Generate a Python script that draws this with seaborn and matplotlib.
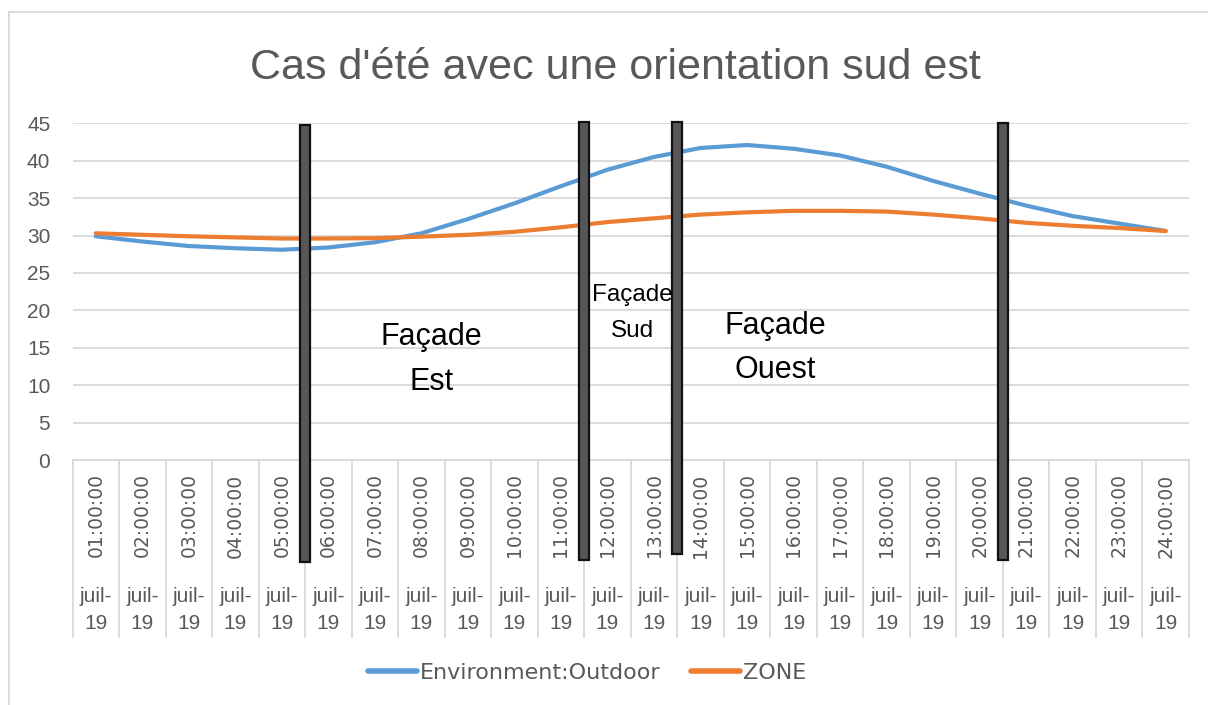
import numpy as np
import pandas as pd
import matplotlib
matplotlib.use("Agg")
import matplotlib.pyplot as plt
import matplotlib.transforms as mtransforms
from matplotlib.lines import Line2D
import seaborn as sns

# ---- data -------------------------------------------------------------
hours = ["01:00:00", "02:00:00", "03:00:00", "04:00:00", "05:00:00", "06:00:00",
         "07:00:00", "08:00:00", "09:00:00", "10:00:00", "11:00:00", "12:00:00",
         "13:00:00", "14:00:00", "15:00:00", "16:00:00", "17:00:00", "18:00:00",
         "19:00:00", "20:00:00", "21:00:00", "22:00:00", "23:00:00", "24:00:00"]
month_label = ["juil-", "19"]

outdoor = [29.9, 29.2, 28.6, 28.3, 28.1, 28.4, 29.1, 30.3, 32.2, 34.3, 36.6, 38.8,
           40.5, 41.7, 42.1, 41.6, 40.7, 39.2, 37.3, 35.6, 34.0, 32.6, 31.6, 30.6]
zone = [30.3, 30.1, 29.9, 29.75, 29.6, 29.6, 29.65, 29.85, 30.1, 30.5, 31.1, 31.8,
        32.3, 32.8, 33.1, 33.3, 33.3, 33.2, 32.8, 32.3, 31.7, 31.3, 31.0, 30.6]
series_names = ["Environment:Outdoor", "ZONE"]

# façade separators (category-boundary positions) and their vertical extent
sep_pos = [4.5, 10.5, 12.5, 19.5]
sep_top = [44.8, 45.2, 45.2, 45.1]
sep_bottom = [-13.6, -13.4, -12.6, -13.4]

title = "Cas d'été avec une orientation sud est"

# ---- style ------------------------------------------------------------
sns.set_theme(style="white")
plt.rcParams["font.family"] = ["Liberation Sans", "DejaVu Sans"]
GREY_TXT = "#595959"
GRID = "#D9D9D9"
BLUE = "#5B9BD5"
ORANGE = "#ED7D31"

W, H = 1208, 705
fig = plt.figure(figsize=(W / 100, H / 100), dpi=100)
fig.patch.set_facecolor("white")
ax = fig.add_axes([72.5 / W, 1 - 460 / H, (1189 - 72.5) / W, (460 - 123.3) / H])

df = pd.DataFrame({"idx": np.arange(len(hours)), series_names[0]: outdoor, series_names[1]: zone})
long = df.melt(id_vars="idx", var_name="série", value_name="temp")

sns.lineplot(data=long, x="idx", y="temp", hue="série", palette=[BLUE, ORANGE],
             linewidth=3, sort=False, ax=ax, solid_capstyle="round", zorder=3)
handles, labels = ax.get_legend_handles_labels()
if ax.get_legend() is not None:
    ax.get_legend().remove()

# separator bars
ax.bar(sep_pos, [t - b for t, b in zip(sep_top, sep_bottom)], bottom=sep_bottom,
       width=0.22, color="#575757", edgecolor="#111111", linewidth=1.6,
       clip_on=False, zorder=6)

ax.set_xlim(-0.5, len(hours) - 0.5)
ax.set_ylim(0, 45)
ax.set_yticks(range(0, 46, 5))
ax.set_xticks([])
ax.set_xlabel("")
ax.set_ylabel("")
ax.yaxis.grid(True, color=GRID, linewidth=1.3)
ax.set_axisbelow(True)
for s in ["left", "right", "top"]:
    ax.spines[s].set_visible(False)
ax.spines["bottom"].set_color(GRID)
ax.spines["bottom"].set_linewidth(1.3)
ax.tick_params(axis="y", length=0, pad=16, labelsize=15, labelcolor=GREY_TXT)

# multi-level category axis
trans = mtransforms.blended_transform_factory(ax.transData, ax.transAxes)
for b in np.arange(-0.5, len(hours), 1.0):
    ax.axvline(b, ymin=-0.526, ymax=0, color=GRID, linewidth=1.3, clip_on=False, zorder=1)
for i, lab in enumerate(hours):
    ax.text(i, -0.040, lab, transform=trans, rotation=90, ha="center", va="top",
            fontsize=13.5, family="DejaVu Sans", color=GREY_TXT)
    ax.text(i, -0.421, month_label[0], transform=trans, ha="center", va="baseline",
            fontsize=15, color=GREY_TXT)
    ax.text(i, -0.502, month_label[1], transform=trans, ha="center", va="baseline",
            fontsize=15, color=GREY_TXT)

# façade annotations
ax.text(7.21, 15.37, "Façade", ha="center", va="baseline", fontsize=22, color="black", zorder=7)
ax.text(7.21, 9.36, "Est", ha="center", va="baseline", fontsize=22, color="black", zorder=7)
ax.text(11.53, 21.3, "Façade", ha="center", va="baseline", fontsize=17.5, color="black", zorder=7)
ax.text(11.53, 16.5, "Sud", ha="center", va="baseline", fontsize=17.5, color="black", zorder=7)
ax.text(14.61, 16.9, "Façade", ha="center", va="baseline", fontsize=22, color="black", zorder=7)
ax.text(14.61, 10.9, "Ouest", ha="center", va="baseline", fontsize=22, color="black", zorder=7)

# title
fig.text(615 / W, 1 - 79 / H, title, ha="center", va="baseline", fontsize=31, color=GREY_TXT)

# legend
leg = fig.legend(handles, labels, loc="center", bbox_to_anchor=(587 / W, 1 - 673 / H),
                 ncol=2, frameon=False, handlelength=2.2,
                 handletextpad=0.15, columnspacing=1.35, labelcolor=GREY_TXT,
                 prop={"family": "DejaVu Sans", "size": 16})
for line in leg.get_lines():
    line.set_linewidth(4)
    line.set_solid_capstyle("round")

# chart area frame
fig.add_artist(Line2D([9 / W, 9 / W], [0, 1 - 12 / H], transform=fig.transFigure,
                      color=GRID, linewidth=1.3))
fig.add_artist(Line2D([9 / W, 1], [1 - 12 / H, 1 - 12 / H], transform=fig.transFigure,
                      color=GRID, linewidth=1.3))

fig.savefig("out.png", dpi=100, facecolor="white")
